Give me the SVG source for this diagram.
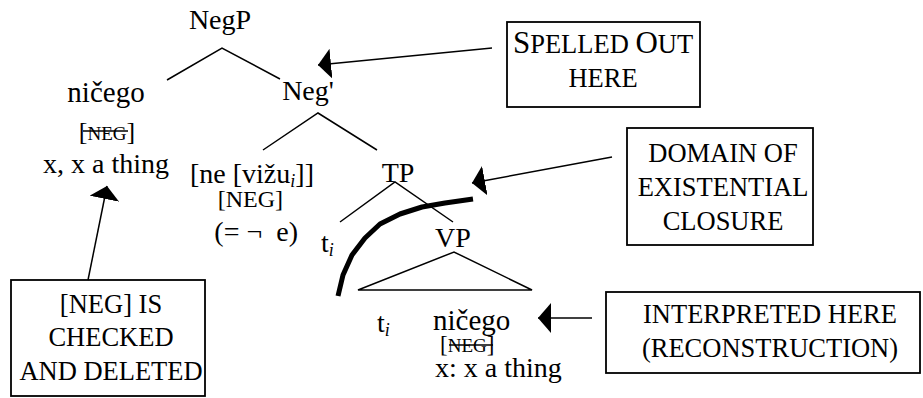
<svg xmlns="http://www.w3.org/2000/svg" width="923" height="398" viewBox="0 0 923 398">
<style>
text{font-family:"Liberation Serif","Times New Roman",serif;fill:#000}
.t{font-size:28px}
.b{font-size:26.5px}
.sc{font-size:19px}
.sub{font-size:18px;font-style:italic}
.ln{stroke:#000;stroke-width:1.5;fill:none}
.box{fill:#fff;stroke:#000;stroke-width:1.8}
.arr{stroke:#000;stroke-width:1.5;fill:none;marker-end:url(#ah)}
</style>
<defs>
<marker id="ah" markerUnits="userSpaceOnUse" markerWidth="14" markerHeight="30" refX="13" refY="15" orient="auto" viewBox="0 0 14 30">
<path d="M0,0 L13,15 L0,30 Z" fill="#000"/>
</marker>
</defs>
<rect width="923" height="398" fill="#fff"/>

<g id="tree-lines">
<path class="ln" d="M167,80 L222,48 L280,79"/>
<path class="ln" d="M263,150 L318,113 L377,150"/>
<path class="ln" d="M340,222 L395,182 L453,222"/>
<path class="ln" d="M358,290 L454,252 L532,290 Z"/>
</g>

<g id="negp"><text class="t" x="220" y="29" text-anchor="middle">NegP</text></g>
<g id="nicego-spec">
<text class="t" x="106" y="102" text-anchor="middle" style="font-size:29px">ničego</text>
<text x="107" y="140" text-anchor="middle"><tspan style="font-size:26px">[</tspan><tspan class="sc">NEG</tspan><tspan style="font-size:26px">]</tspan></text>
<line x1="83" y1="131" x2="128" y2="131" stroke="#000" stroke-width="1.5"/>
<text class="t" x="106" y="173" text-anchor="middle">x, x a thing</text>
</g>
<g id="negbar"><text class="t" x="308" y="100" text-anchor="middle">Neg'</text></g>
<g id="neg-head">
<text class="t" x="190" y="183">[ne [vižu<tspan class="sub" dy="4">i</tspan><tspan dy="-4">]]</tspan></text>
<text x="283" y="207" text-anchor="end" style="font-size:24px">[NEG]</text>
<text class="t" x="298" y="241" text-anchor="end" xml:space="preserve">(= ¬  e)</text>
</g>
<g id="tp"><text class="t" x="398" y="182" text-anchor="middle">TP</text></g>
<g id="t-trace1"><text class="t" x="321" y="252">t<tspan class="sub" dy="4">i</tspan></text></g>
<g id="vp"><text class="t" x="453" y="247" text-anchor="middle">VP</text></g>
<g id="t-trace2"><text class="t" x="377" y="332">t<tspan class="sub" dy="4">i</tspan></text></g>
<g id="nicego-obj">
<text class="t" x="433" y="330" style="font-size:29px">ničego</text>
<text x="440" y="352"><tspan style="font-size:23px">[</tspan><tspan class="sc">NEG</tspan><tspan style="font-size:23px">]</tspan></text>
<line x1="449" y1="345" x2="493" y2="345" stroke="#000" stroke-width="1.5"/>
<text class="t" x="435" y="377">x: x a thing</text>
</g>

<g id="domain-curve">
<polyline points="338,296 343,275 352,255 365,238 380,224 400,214 422,207 445,203 473,199" fill="none" stroke="#000" stroke-width="5" stroke-linejoin="round"/>
</g>

<g id="box-spelled">
<rect class="box" x="507" y="22" width="193" height="85"/>
<text x="603" y="53" text-anchor="middle"><tspan style="font-size:31px">S</tspan><tspan class="b">PELLED </tspan><tspan style="font-size:31px">O</tspan><tspan class="b">UT</tspan></text>
<text class="b" x="603" y="87" text-anchor="middle">HERE</text>
</g>
<g id="box-domain">
<rect class="box" x="627" y="128" width="186" height="117"/>
<text class="b" x="723" y="162" text-anchor="middle">DOMAIN OF</text>
<text class="b" x="723" y="196" text-anchor="middle">EXISTENTIAL</text>
<text class="b" x="723" y="230" text-anchor="middle">CLOSURE</text>
</g>
<g id="box-interpreted">
<rect class="box" x="606" y="292" width="314" height="81"/>
<text class="b" x="770" y="323" text-anchor="middle">INTERPRETED HERE</text>
<text class="b" x="770" y="357" text-anchor="middle">(RECONSTRUCTION)</text>
</g>
<g id="box-checked">
<rect class="box" x="11" y="280" width="194" height="116"/>
<text class="b" x="111" y="313" text-anchor="middle">[NEG] IS</text>
<text class="b" x="111" y="346" text-anchor="middle">CHECKED</text>
<text class="b" x="111" y="380" text-anchor="middle">AND DELETED</text>
</g>

<g id="connectors">
<line class="arr" x1="492" y1="48" x2="318" y2="65"/>
<line class="arr" x1="612" y1="157" x2="472" y2="183"/>
<line class="arr" x1="592" y1="318" x2="538" y2="318"/>
<line class="arr" x1="88" y1="280" x2="107" y2="186"/>
</g>
</svg>
